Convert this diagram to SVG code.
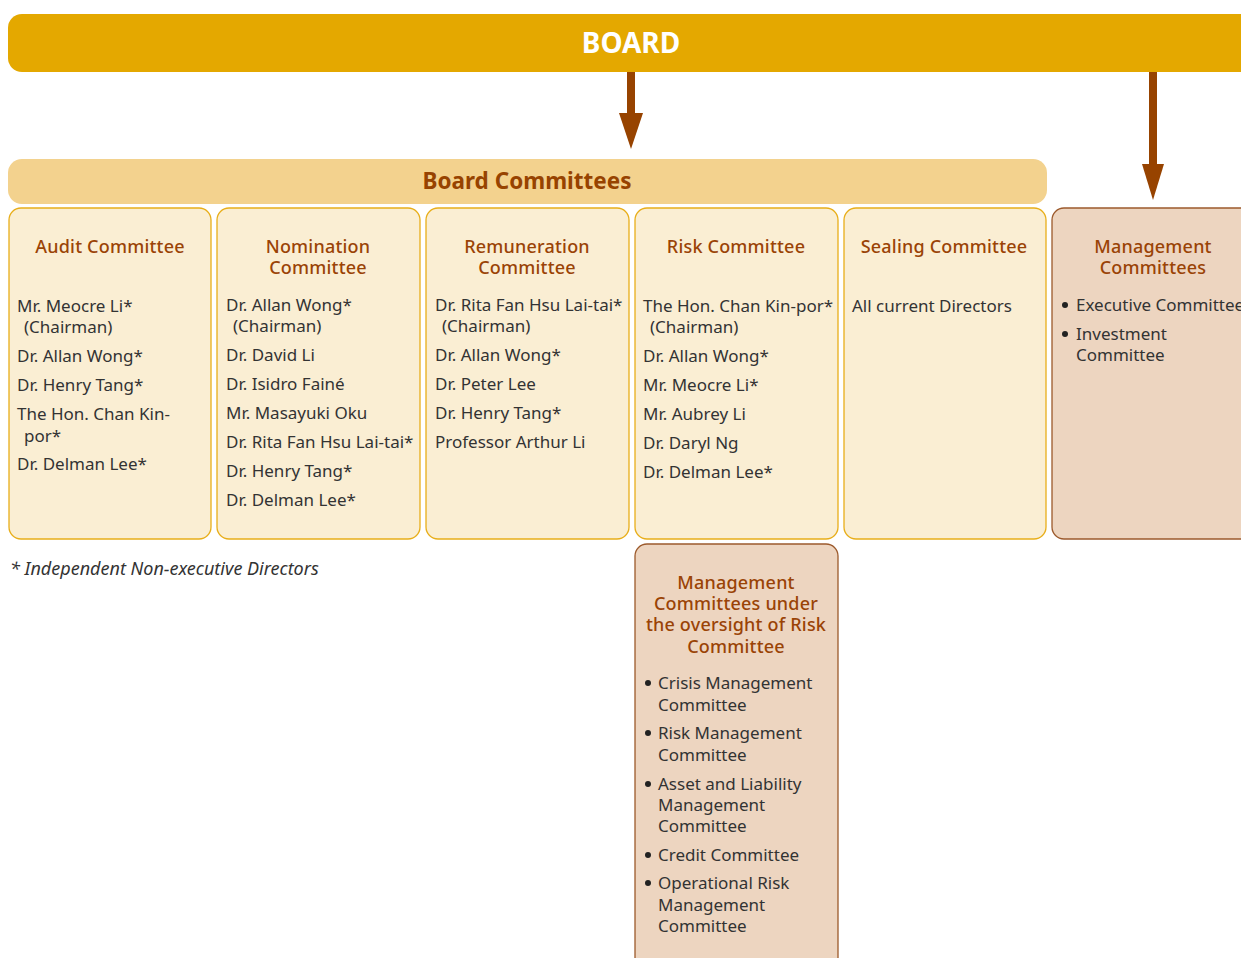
<svg xmlns="http://www.w3.org/2000/svg" width="1241" height="958" viewBox="0 0 1241 958">
<style>
.t{font-family:"Noto Sans","Liberation Sans",sans-serif;font-size:18px;fill:#9A4306;text-anchor:middle;font-weight:500;letter-spacing:0.2px}
.b{font-family:"Noto Sans","Liberation Sans",sans-serif;font-size:17px;fill:#333}
.box{fill:#FAEED3;stroke:#E8AE1A;stroke-width:1.3}
.mbox{fill:#EDD5C0;stroke:#9C5A2C;stroke-width:1.3}
.dot{fill:#222}
</style>
<g id="board">
<rect x="8" y="14" width="1260" height="58" rx="14" fill="#E4A800"/>
<text x="631" y="53" font-family="Noto Sans,Liberation Sans,sans-serif" font-size="28" font-weight="bold" fill="#fff" text-anchor="middle">BOARD</text>
</g>
<g id="connectors">
<line x1="631" y1="72" x2="631" y2="114" stroke="#974300" stroke-width="8"/>
<path d="M619 113L643 113L631 149Z" fill="#974300"/>
<line x1="1153" y1="72" x2="1153" y2="165" stroke="#974300" stroke-width="8"/>
<path d="M1142 164L1164 164L1153 200Z" fill="#974300"/>
</g>
<g id="board-committees">
<rect x="8" y="159" width="1039" height="45" rx="14" fill="#F3D28E"/>
<text x="527" y="189" font-family="Noto Sans,Liberation Sans,sans-serif" font-size="22.5" font-weight="bold" fill="#974300" text-anchor="middle">Board Committees</text>
</g>
<g id="audit">
<rect class="box" x="9" y="208" width="202" height="331" rx="12"/>
<text class="t" x="110" y="253">Audit Committee</text>
<text class="b" x="17" y="312">Mr. Meocre Li*</text>
<text class="b" x="24" y="333">(Chairman)</text>
<text class="b" x="17" y="362">Dr. Allan Wong*</text>
<text class="b" x="17" y="391">Dr. Henry Tang*</text>
<text class="b" x="17" y="420">The Hon. Chan Kin-</text>
<text class="b" x="24" y="442">por*</text>
<text class="b" x="17" y="470">Dr. Delman Lee*</text>
</g>
<g id="nomination">
<rect class="box" x="217" y="208" width="203" height="331" rx="12"/>
<text class="t" x="318" y="253">Nomination</text>
<text class="t" x="318" y="274">Committee</text>
<text class="b" x="226" y="311">Dr. Allan Wong*</text>
<text class="b" x="233" y="332">(Chairman)</text>
<text class="b" x="226" y="361">Dr. David Li</text>
<text class="b" x="226" y="390">Dr. Isidro Fainé</text>
<text class="b" x="226" y="419">Mr. Masayuki Oku</text>
<text class="b" x="226" y="448">Dr. Rita Fan Hsu Lai-tai*</text>
<text class="b" x="226" y="477">Dr. Henry Tang*</text>
<text class="b" x="226" y="506">Dr. Delman Lee*</text>
</g>
<g id="remuneration">
<rect class="box" x="426" y="208" width="203" height="331" rx="12"/>
<text class="t" x="527" y="253">Remuneration</text>
<text class="t" x="527" y="274">Committee</text>
<text class="b" x="435" y="311">Dr. Rita Fan Hsu Lai-tai*</text>
<text class="b" x="442" y="332">(Chairman)</text>
<text class="b" x="435" y="361">Dr. Allan Wong*</text>
<text class="b" x="435" y="390">Dr. Peter Lee</text>
<text class="b" x="435" y="419">Dr. Henry Tang*</text>
<text class="b" x="435" y="448">Professor Arthur Li</text>
</g>
<g id="risk">
<rect class="box" x="635" y="208" width="203" height="331" rx="12"/>
<text class="t" x="736" y="253">Risk Committee</text>
<text class="b" x="643" y="312">The Hon. Chan Kin-por*</text>
<text class="b" x="650" y="333">(Chairman)</text>
<text class="b" x="643" y="362">Dr. Allan Wong*</text>
<text class="b" x="643" y="391">Mr. Meocre Li*</text>
<text class="b" x="643" y="420">Mr. Aubrey Li</text>
<text class="b" x="643" y="449">Dr. Daryl Ng</text>
<text class="b" x="643" y="478">Dr. Delman Lee*</text>
</g>
<g id="sealing">
<rect class="box" x="844" y="208" width="202" height="331" rx="12"/>
<text class="t" x="944" y="253">Sealing Committee</text>
<text class="b" x="852" y="312">All current Directors</text>
</g>
<g id="management">
<rect class="mbox" x="1052" y="208" width="220" height="331" rx="12"/>
<text class="t" x="1153" y="253">Management</text>
<text class="t" x="1153" y="274">Committees</text>
<circle class="dot" cx="1065" cy="305" r="3"/>
<text class="b" x="1076" y="311">Executive Committee</text>
<circle class="dot" cx="1065" cy="334" r="3"/>
<text class="b" x="1076" y="340">Investment</text>
<text class="b" x="1076" y="361">Committee</text>
</g>
<g id="risk-management">
<rect class="mbox" x="635" y="544" width="203" height="440" rx="12"/>
<text class="t" x="736" y="589">Management</text>
<text class="t" x="736" y="610">Committees under</text>
<text class="t" x="736" y="631">the oversight of Risk</text>
<text class="t" x="736" y="653">Committee</text>
<circle class="dot" cx="648" cy="683" r="3"/>
<text class="b" x="658" y="689">Crisis Management</text>
<text class="b" x="658" y="711">Committee</text>
<circle class="dot" cx="648" cy="733" r="3"/>
<text class="b" x="658" y="739">Risk Management</text>
<text class="b" x="658" y="761">Committee</text>
<circle class="dot" cx="648" cy="784" r="3"/>
<text class="b" x="658" y="790">Asset and Liability</text>
<text class="b" x="658" y="811">Management</text>
<text class="b" x="658" y="832">Committee</text>
<circle class="dot" cx="648" cy="855" r="3"/>
<text class="b" x="658" y="861">Credit Committee</text>
<circle class="dot" cx="648" cy="883" r="3"/>
<text class="b" x="658" y="889">Operational Risk</text>
<text class="b" x="658" y="911">Management</text>
<text class="b" x="658" y="932">Committee</text>
</g>
<g id="footnote">
<text x="10" y="575" font-family="Noto Sans,Liberation Sans,sans-serif" font-size="18" font-style="italic" fill="#333">* Independent Non-executive Directors</text>
</g>
</svg>
